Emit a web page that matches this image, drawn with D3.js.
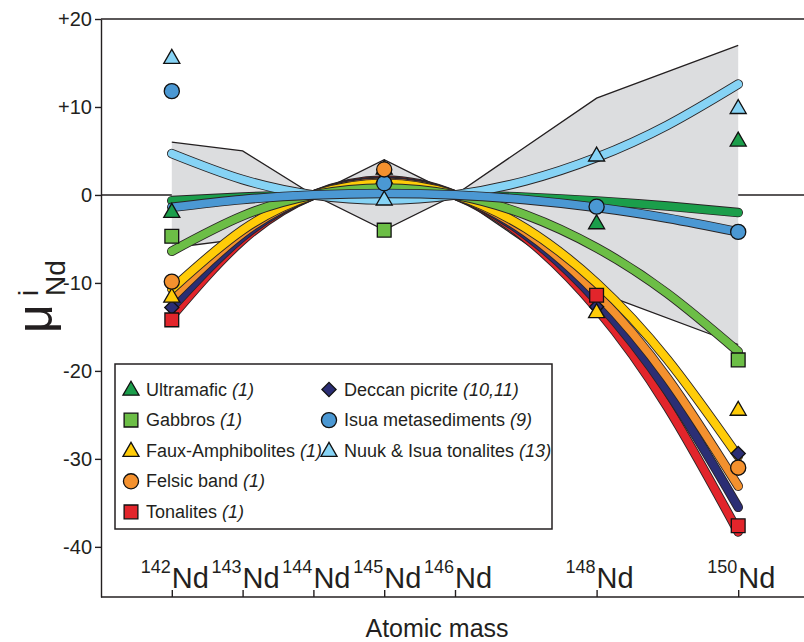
<!DOCTYPE html>
<html>
<head>
  <meta charset="utf-8">
  <script src="https://d3js.org/d3.v7.min.js"></script>
  <style>
    body { margin: 0; background: #ffffff; }
    text { font-family: 'Liberation Sans', Arial, sans-serif; fill: #231f20; }
    .axis path, .axis line { stroke: #231f20; stroke-width: 1.4; }
  </style>
</head>
<body>
  <div id="chart"></div>
  <script>
    // masses where each fitted curve is read
    var masses = [142, 143, 144, 145, 146, 147, 148, 149, 150];

    // fitted curves (mu values)
    var curveUltramafic = [-0.65, -0.24, 0, 0.08, 0, -0.26, -0.68, -1.26, -2.0];
    var curveGabbros = [-6.4, -2.38, 0, 0.78, 0, -2.27, -6.0, -11.2, -17.8];
    var curveFaux = [-10.7, -3.98, 0, 1.31, 0, -3.79, -10.0, -18.7, -29.7];
    var curveFelsic = [-11.7, -4.36, 0, 1.43, 0, -4.22, -11.2, -20.8, -33.1];
    var curveDeccan = [-12.8, -4.77, 0, 1.57, 0, -4.53, -12.0, -22.3, -35.5];
    var curveTonalites = [-13.8, -5.14, 0, 1.69, 0, -4.89, -12.9, -24.1, -38.3];
    var curveIsua = [-1.4, -0.52, 0, 0.17, 0, -0.54, -1.42, -2.64, -4.2];
    var curveNuuk = [4.7, 1.75, 0, -0.58, 0, 1.61, 4.26, 7.93, 12.6];

    // measured points [mass, mu]
    var ptsUltramafic = [[142, -1.9], [145, 3.0], [148, -3.2], [150, 6.2]];
    var ptsGabbros = [[142, -4.7], [145, -4.0], [150, -18.75]];
    var ptsFaux = [[142, -11.55], [145, 2.0], [148, -13.3], [150, -24.4]];
    var ptsFelsic = [[142, -9.85], [145, 2.9], [150, -31.0]];
    var ptsDeccan = [[142, -12.8], [148, -12.7], [150, -29.4]];
    var ptsTonalites = [[142, -14.2], [148, -11.4], [150, -37.6]];
    var ptsIsua = [[142, 11.8], [145, 1.33], [148, -1.33], [150, -4.2]];
    var ptsNuuk = [[142, 15.6], [145, -0.5], [148, 4.5], [150, 9.9]];

    // grey envelope
    var envMass = [142, 143, 144, 145, 146, 148, 150];
    var envUpper = [6, 5, 0, 4, 0, 11, 17];
    var envLower = [-6, -5, 0, -4, 0, -11, -17];

    var yTicks = [20, 10, 0, -10, -20, -30, -40];
    var xTicks = [142, 143, 144, 145, 146, 148, 150];

    var legendNames = ["Ultramafic", "Gabbros", "Faux-Amphibolites", "Felsic band", "Tonalites",
      "Deccan picrite", "Isua metasediments", "Nuuk & Isua tonalites"];
    var legendRefs = ["(1)", "(1)", "(1)", "(1)", "(1)", "(10,11)", "(9)", "(13)"];

    var groups = [
      { name: "Ultramafic", curve: curveUltramafic, pts: ptsUltramafic, color: "#1b9e4b", shape: "triangle" },
      { name: "Gabbros", curve: curveGabbros, pts: ptsGabbros, color: "#6cbe46", shape: "square" },
      { name: "Faux-Amphibolites", curve: curveFaux, pts: ptsFaux, color: "#ffcc08", shape: "triangle" },
      { name: "Felsic band", curve: curveFelsic, pts: ptsFelsic, color: "#f4912e", shape: "circle" },
      { name: "Tonalites", curve: curveTonalites, pts: ptsTonalites, color: "#e2252b", shape: "square" },
      { name: "Deccan picrite", curve: curveDeccan, pts: ptsDeccan, color: "#2b2e74", shape: "diamond" },
      { name: "Isua metasediments", curve: curveIsua, pts: ptsIsua, color: "#4b98d3", shape: "circle" },
      { name: "Nuuk & Isua tonalites", curve: curveNuuk, pts: ptsNuuk, color: "#86d3f5", shape: "triangle" }
    ];
    var byName = {};
    groups.forEach(function (d) { byName[d.name] = d; });

    var width = 804, height = 642;

    var svg = d3.select("#chart").append("svg")
      .attr("width", width)
      .attr("height", height);

    var x = d3.scaleLinear().domain([141, 151]).range([101, 809]);
    var y = d3.scaleLinear().domain([-45.7, 20]).range([597, 19]);

    function symbolPath(shape) {
      if (shape == "triangle") return d3.symbol().type(d3.symbolTriangle).size(112)();
      if (shape == "square") return d3.symbol().type(d3.symbolSquare).size(190)();
      if (shape == "diamond") return d3.symbol().type(d3.symbolSquare).size(100)();
      return d3.symbol().type(d3.symbolCircle).size(180)();
    }
    function symbolTransform(shape, px, py) {
      var t = "translate(" + px + "," + py + ")";
      if (shape == "triangle") t += " translate(0,1)";
      if (shape == "diamond") t += " rotate(45)";
      return t;
    }

    // zero line
    svg.append("line")
      .attr("x1", 101).attr("x2", width)
      .attr("y1", y(0)).attr("y2", y(0))
      .attr("stroke", "#231f20").attr("stroke-width", 1.4);

    // envelope
    var envData = envMass.map(function (m, i) { return { m: m, hi: envUpper[i], lo: envLower[i] }; });
    svg.append("path")
      .datum(envData)
      .attr("fill", "#dcdddf")
      .attr("d", d3.area()
        .x(function (d) { return x(d.m); })
        .y0(function (d) { return y(d.lo); })
        .y1(function (d) { return y(d.hi); }));
    ["hi", "lo"].forEach(function (k) {
      svg.append("path")
        .datum(envData)
        .attr("fill", "none")
        .attr("stroke", "#231f20")
        .attr("stroke-width", 1.3)
        .attr("d", d3.line()
          .x(function (d) { return x(d.m); })
          .y(function (d) { return y(d[k]); }));
    });

    // curves, drawn back to front
    var curveOrder = ["Tonalites", "Deccan picrite", "Felsic band", "Faux-Amphibolites", "Gabbros",
      "Ultramafic", "Nuuk & Isua tonalites", "Isua metasediments"];
    var line = d3.line()
      .x(function (d) { return x(d[0]); })
      .y(function (d) { return y(d[1]); })
      .curve(d3.curveNatural);

    curveOrder.forEach(function (n) {
      var grp = byName[n];
      var pts = masses.map(function (m, i) { return [m, grp.curve[i]]; });
      svg.append("path").datum(pts)
        .attr("fill", "none")
        .attr("stroke", "#2a2526")
        .attr("stroke-width", 9.6)
        .attr("stroke-linecap", "round")
        .attr("d", line);
      svg.append("path").datum(pts)
        .attr("fill", "none")
        .attr("stroke", grp.color)
        .attr("stroke-width", 7.8)
        .attr("stroke-linecap", "round")
        .attr("d", line);
    });

    // markers, back to front
    var markerOrder = ["Ultramafic", "Deccan picrite", "Tonalites", "Faux-Amphibolites", "Gabbros",
      "Isua metasediments", "Felsic band", "Nuuk & Isua tonalites"];
    markerOrder.forEach(function (n) {
      var grp = byName[n];
      svg.append("g").selectAll("path")
        .data(grp.pts)
        .enter().append("path")
        .attr("d", symbolPath(grp.shape))
        .attr("transform", function (d) { return symbolTransform(grp.shape, x(d[0]), y(d[1])); })
        .attr("fill", grp.color)
        .attr("stroke", "#111")
        .attr("stroke-width", 1.3);
    });

    // axes
    var yAxis = svg.append("g")
      .attr("class", "axis")
      .attr("transform", "translate(101,0)")
      .call(d3.axisLeft(y).tickValues(yTicks).tickSize(6).tickSizeOuter(0)
        .tickFormat(function (d) { return d > 0 ? "+" + d : d; }));
    yAxis.selectAll("text")
      .attr("font-size", 20)
      .attr("font-family", "'Liberation Sans', Arial, sans-serif")
      .attr("fill", "#231f20")
      .attr("x", -9);

    var xAxis = svg.append("g")
      .attr("class", "axis")
      .attr("transform", "translate(0,597)")
      .call(d3.axisBottom(x).tickValues(xTicks).tickSizeInner(-7).tickSizeOuter(0).tickFormat(""));
    xAxis.select(".domain").attr("d", "M101,0H" + width);

    // top frame
    svg.append("line")
      .attr("x1", 101).attr("x2", width)
      .attr("y1", 19).attr("y2", 19)
      .attr("stroke", "#231f20").attr("stroke-width", 1.4);

    // isotope labels
    xTicks.forEach(function (m) {
      svg.append("text")
        .attr("x", x(m) - 1)
        .attr("y", 573)
        .attr("font-size", 18)
        .attr("text-anchor", "end")
        .text(m);
      svg.append("text")
        .attr("x", x(m))
        .attr("y", 588)
        .attr("font-size", 29)
        .text("Nd");
    });

    svg.append("text")
      .attr("x", 437)
      .attr("y", 637)
      .attr("font-size", 25)
      .attr("text-anchor", "middle")
      .text("Atomic mass");

    // y label: mu with i superscript and Nd subscript
    var yl = svg.append("g").attr("transform", "translate(52,333) rotate(-90)");
    yl.append("text").attr("x", 0).attr("y", 0).attr("font-size", 50).text("\u03bc");
    yl.append("text").attr("x", 37).attr("y", -14).attr("font-size", 27).text("i");
    yl.append("text").attr("x", 37).attr("y", 13).attr("font-size", 28).text("Nd");

    // legend
    var lg = svg.append("g");
    lg.append("rect")
      .attr("x", 115).attr("y", 364)
      .attr("width", 437).attr("height", 165)
      .attr("fill", "#fff")
      .attr("stroke", "#231f20")
      .attr("stroke-width", 1.5);

    legendNames.forEach(function (n, i) {
      var grp = byName[n];
      var col = i < 5 ? 0 : 1;
      var row = i < 5 ? i : i - 5;
      var mx = col == 0 ? 131 : 329;
      var my = 389.5 + row * 30.6;
      lg.append("path")
        .attr("d", symbolPath(grp.shape))
        .attr("transform", symbolTransform(grp.shape, mx, my))
        .attr("fill", grp.color)
        .attr("stroke", "#111")
        .attr("stroke-width", 1.3);
      var t = lg.append("text")
        .attr("x", mx + 15)
        .attr("y", my + 6)
        .attr("font-size", 18);
      t.append("tspan").text(n + " ");
      t.append("tspan").attr("font-style", "italic").text(legendRefs[i]);
    });
  </script>
</body>
</html>
